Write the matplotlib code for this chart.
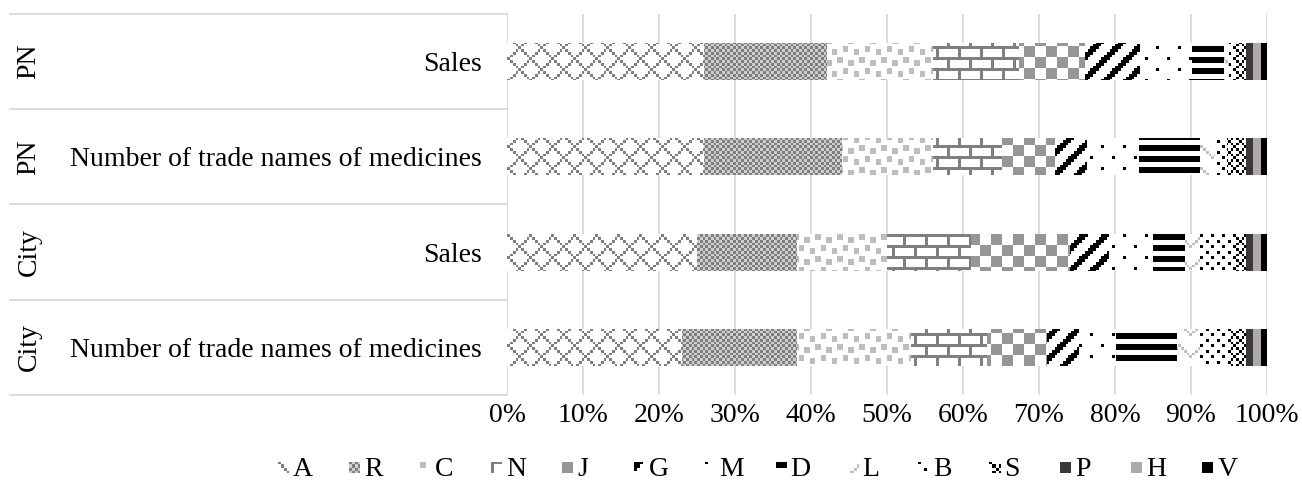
"""
Структура продаж и ассортимента по группам: 100%-ные горизонтальные столбцы
с узорной заливкой в духе Excel.
"""

import numpy as np
import matplotlib
matplotlib.use('Agg')
import matplotlib.pyplot as plt
import matplotlib.transforms as mtransforms
from matplotlib.colors import to_rgb
from matplotlib.path import Path


W, H, DPI = 1302, 490, 100
SCALE = 2.75  # размер одного пикселя узора 8x8 на экране

# Данные (доли в %), строки сверху вниз
series = ['A', 'R', 'C', 'N', 'J', 'G', 'M', 'D', 'L', 'B', 'S', 'P', 'H', 'V']
groups = ['PN', 'PN', 'City', 'City']
measures = ['Sales', 'Number of trade names of medicines',
            'Sales', 'Number of trade names of medicines']

pn_sales = [25.9, 16.2, 14.0, 11.3, 8.6, 7.3, 6.8, 4.2, 0.7, 0.7, 1.5, 0.9, 1.1, 0.8]
pn_names = [25.9, 18.2, 12.0, 9.0, 7.0, 4.2, 6.8, 8.1, 2.0, 1.5, 2.5, 0.9, 1.1, 0.8]
city_sales = [25.0, 13.1, 11.9, 11.1, 13.0, 5.1, 5.8, 4.2, 2.0, 4.3, 1.7, 0.9, 1.1, 0.8]
city_names = [23.0, 15.1, 15.0, 10.1, 7.9, 4.1, 4.9, 8.1, 3.0, 3.7, 2.3, 0.9, 1.1, 0.8]
rows = [pn_sales, pn_names, city_sales, city_names]


def bitmap(kind):
    """Маска узора 8x8"""
    i, j = np.mgrid[0:8, 0:8]
    if kind == 'diamond':
        return ((i + j) % 8 == 0) | ((i - j) % 8 == 0)
    if kind == 'gray50':
        return (i + j) % 2 == 0
    if kind == 'confetti':
        m = np.zeros((8, 8), bool)
        for r, c in [(0, 0), (1, 4), (4, 2), (5, 6)]:
            m[r:r + 2, c:c + 2] = True
        return m
    if kind == 'brick':
        return (i % 4 == 0) | ((j == 0) & (i < 4)) | ((j == 4) & (i >= 4))
    if kind == 'checker':
        return ((i // 4) + (j // 4)) % 2 == 0
    if kind == 'wide_up':
        return (i + j) % 8 < 3
    if kind == 'dots5':
        return ((i == 0) & (j == 0)) | ((i == 4) & (j == 4))
    if kind == 'dark_horiz':
        return i % 4 < 2
    if kind == 'zigzag':
        return i == np.abs(j - 4)
    if kind == 'dots25':
        return (i % 2 == 0) & ((j + 2 * ((i // 2) % 2)) % 4 == 0)
    if kind == 'trellis':
        return ((i + j) % 4 == 0) | ((i - j) % 4 == 0)
    return np.ones((8, 8), bool)


# (узор, цвет узора, цвет фона)
styles = {
    'A': ('diamond', '#7f7f7f', '#ffffff'),
    'R': ('gray50', '#7f7f7f', '#cfcfcf'),
    'C': ('confetti', '#bdbdbd', '#ffffff'),
    'N': ('brick', '#7f7f7f', '#ffffff'),
    'J': ('checker', '#969696', '#ffffff'),
    'G': ('wide_up', '#000000', '#ffffff'),
    'M': ('dots5', '#000000', '#ffffff'),
    'D': ('dark_horiz', '#000000', '#ffffff'),
    'L': ('zigzag', '#bfbfbf', '#ffffff'),
    'B': ('dots25', '#000000', '#ffffff'),
    'S': ('trellis', '#000000', '#ffffff'),
    'P': ('solid', '#3b3838', '#3b3838'),
    'H': ('solid', '#aeaaaa', '#aeaaaa'),
    'V': ('solid', '#000000', '#000000'),
}


def texture(kind, fg, bg, w, h):
    yy, xx = np.mgrid[0:h, 0:w]
    mask = bitmap(kind)[(yy / SCALE).astype(int) % 8, (xx / SCALE).astype(int) % 8]
    return np.where(mask[..., None], np.array(to_rgb(fg)), np.array(to_rgb(bg)))


plt.rcParams['font.family'] = ['Liberation Serif', 'DejaVu Serif']
plt.rcParams['font.size'] = 20

fig = plt.figure(figsize=(W / DPI, H / DPI), dpi=DPI)
x0, x1, y0, y1 = 507, 1267, 14, 395
ax = fig.add_axes([x0 / W, 1 - y1 / H, (x1 - x0) / W, (y1 - y0) / H])
ax_w, ax_h = x1 - x0, y1 - y0

ypos = np.arange(len(rows))
data = np.array(rows)
lefts = np.zeros(len(rows))
for k, name in enumerate(series):
    vals = data[:, k]
    kind, fg, bg = styles[name]
    bars = ax.barh(ypos, vals, left=lefts, height=0.39, color=bg,
                   edgecolor='none', zorder=2)
    if kind != 'solid':
        paths = [b.get_path().transformed(b.get_patch_transform()) for b in bars]
        clip = Path.make_compound_path(*paths)
        im = ax.imshow(texture(kind, fg, bg, ax_w, ax_h), extent=(0, 100, 3.5, -0.5),
                       origin='upper', aspect='auto', interpolation='nearest', zorder=3)
        im.set_clip_path(clip, ax.transData)
    lefts += vals

ax.set_xlim(0, 100)
ax.set_ylim(3.5, -0.5)
ax.set_xticks(np.arange(0, 101, 10))
ax.set_xticklabels([f'{v}%' for v in range(0, 101, 10)])
ax.set_yticks(ypos)
ax.set_yticklabels(measures)
ax.tick_params(axis='x', length=0, pad=6)
ax.tick_params(axis='y', length=0, pad=18)
ax.xaxis.grid(True, color='#d9d9d9', linewidth=1.3)
ax.set_axisbelow(True)
for s in ax.spines.values():
    s.set_visible(False)

# Внешний уровень подписей категорий и разделители
trans = mtransforms.blended_transform_factory(ax.transAxes, ax.transData)
x_sep = (10 - x0) / ax_w
x_grp = (29 - x0) / ax_w
for r, g in enumerate(groups):
    ax.text(x_grp, r, g, rotation=90, ha='center', va='center', transform=trans)
for yb in np.arange(-0.5, len(rows), 1.0):
    ax.plot([x_sep, 0], [yb, yb], color='#d9d9d9', linewidth=1.3,
            transform=trans, clip_on=False)

# Легенда внизу
leg_x0, leg_step, leg_yc, box = 278, 71.1, 467, 11
for k, name in enumerate(series):
    kind, fg, bg = styles[name]
    lx = leg_x0 + k * leg_step
    lax = fig.add_axes([lx / W, 1 - (leg_yc + box / 2) / H, box / W, box / H])
    lax.imshow(texture(kind, fg, bg, box, box), interpolation='nearest', aspect='auto')
    lax.axis('off')
    fig.text((lx + box + 4) / W, 1 - (leg_yc + 9) / H, name, ha='left', va='baseline')

fig.savefig('out.png', dpi=DPI)
